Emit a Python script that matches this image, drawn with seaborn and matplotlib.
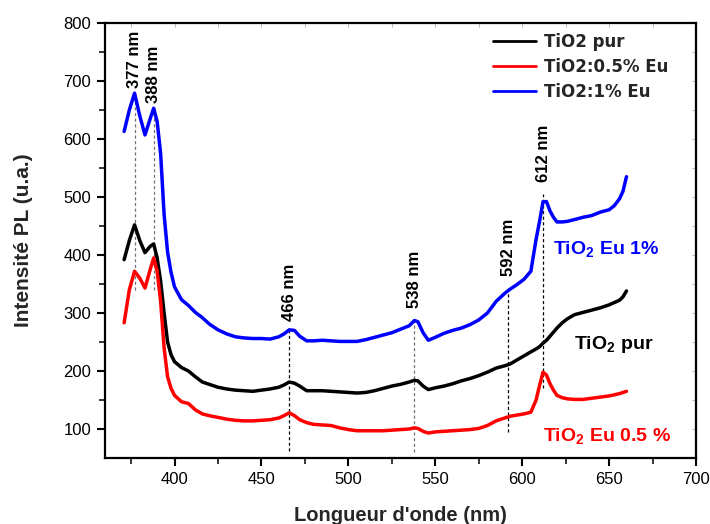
import numpy as np
import pandas as pd
import matplotlib
matplotlib.use("Agg")
import matplotlib.pyplot as plt
import seaborn as sns

# ---------------- data ----------------
wavelength = [371, 374, 377, 380, 383, 386, 388, 390, 392, 394, 396, 398, 400, 404, 408,
              412, 416, 420, 425, 430, 435, 440, 445, 450, 455, 460, 463, 466, 469, 472,
              476, 480, 485, 490, 495, 500, 505, 510, 515, 520, 525, 530, 535, 538, 540,
              543, 546, 550, 555, 560, 565, 570, 575, 580, 585, 590, 593, 597, 601, 605,
              608, 610, 612, 614, 616, 618, 620, 623, 626, 630, 635, 640, 645, 650, 653,
              656, 658, 660]

tio2_pur = [392, 425, 452, 425, 404, 415, 419, 395, 355, 300, 250, 228, 216, 206, 200,
            190, 181, 177, 172, 169, 167, 166, 165, 167, 169, 172, 176, 181, 179, 174,
            166, 166, 166, 165, 164, 163, 162, 163, 166, 170, 174, 177, 181, 184, 183,
            174, 168, 171, 174, 178, 183, 187, 192, 198, 205, 209, 212, 219, 226, 233,
            238, 242, 248, 253, 260, 267, 274, 283, 290, 297, 301, 305, 309, 314, 318,
            322, 328, 338]

tio2_eu05 = [283, 340, 372, 360, 343, 375, 395, 372, 320, 240, 190, 170, 158, 147, 144,
             133, 126, 123, 120, 117, 115, 114, 114, 115, 116, 119, 123, 128, 123, 116,
             111, 108, 107, 106, 102, 99, 97, 97, 97, 97, 98, 99, 100, 102, 101,
             96, 93, 95, 96, 97, 98, 99, 101, 106, 114, 119, 122, 124, 126, 129,
             150, 175, 198, 193, 178, 167, 158, 154, 152, 151, 151, 153, 155, 157, 159,
             161, 163, 165]

tio2_eu1 = [613, 650, 679, 640, 607, 635, 653, 630, 575, 470, 405, 370, 345, 323, 313,
            301, 292, 281, 271, 264, 259, 257, 256, 256, 255, 259, 264, 271, 270, 260,
            252, 252, 253, 252, 251, 251, 251, 254, 258, 262, 266, 272, 278, 287, 285,
            266, 253, 258, 265, 270, 274, 280, 288, 300, 320, 334, 341, 349, 358, 372,
            427, 458, 492, 492, 476, 465, 457, 457, 458, 461, 465, 468, 474, 478, 485,
            497, 510, 535]

series_names = ["TiO2 pur", "TiO2:0.5% Eu", "TiO2:1% Eu"]

# peak markers
peak_wl = [377, 388, 466, 538, 592, 612]
peak_labels = ["377 nm", "388 nm", "466 nm", "538 nm", "592 nm", "612 nm"]
peak_line_top = [679, 653, 271, 287, 345, 505]
peak_line_bottom = [340, 340, 62, 60, 94, 171]
peak_label_y = [688, 662, 286, 308, 363, 526]

# curve annotations
curve_text = [r"TiO$_\mathbf{2}$ Eu 1%", r"TiO$_\mathbf{2}$ pur", r"TiO$_\mathbf{2}$ Eu 0.5 %"]
curve_text_x = [618, 630, 612]
curve_text_y = [401, 238, 80]

# ---------------- plotting ----------------
sns.set_theme(style="ticks")
plt.rcParams["font.family"] = ["Liberation Sans", "DejaVu Sans"]
plt.rcParams["mathtext.fontset"] = "custom"
plt.rcParams["mathtext.rm"] = "Liberation Sans:bold"
plt.rcParams["mathtext.bf"] = "Liberation Sans:bold"
plt.rcParams["mathtext.it"] = "Liberation Sans:bold"

df = pd.DataFrame({
    "wl": wavelength * 3,
    "I": tio2_pur + tio2_eu05 + tio2_eu1,
    "sample": [series_names[0]] * len(wavelength) + [series_names[1]] * len(wavelength)
              + [series_names[2]] * len(wavelength),
})
palette = {series_names[0]: "#000000", series_names[1]: "#ff0000", series_names[2]: "#0000ff"}

fig = plt.figure(figsize=(7.1, 5.24), dpi=100)
ax = fig.add_axes([105 / 710, 1 - 458 / 524, (696 - 105) / 710, (458 - 23) / 524])

sns.lineplot(data=df, x="wl", y="I", hue="sample", palette=palette, sort=False,
             linewidth=2.5, ax=ax, legend=True, estimator=None)

# dashed peak lines
line_colors = ["0.45", "0.45", "black", "0.45", "black", "black"]
for x, y0, y1, c in zip(peak_wl, peak_line_bottom, peak_line_top, line_colors):
    ax.vlines(x, y0, y1, colors=c, linestyles=(0, (2.5, 2)), linewidth=0.9, zorder=1)

for x, y, t in zip(peak_wl, peak_label_y, peak_labels):
    ax.text(x, y, t, rotation=90, ha="center", va="bottom", fontsize=12,
            fontweight="bold", color="black")

for t, x, y, c in zip(curve_text, curve_text_x, curve_text_y, ["#0000ff", "black", "#ff0000"]):
    ax.text(x, y, t, ha="left", va="baseline", fontsize=14, fontweight="bold", color=c)

ax.set_xlim(360, 700)
ax.set_ylim(50, 800)
ax.set_xticks([400, 450, 500, 550, 600, 650, 700])
ax.set_yticks([100, 200, 300, 400, 500, 600, 700, 800])
ax.set_xticks(np.arange(375, 700, 50), minor=True)
ax.set_yticks(np.arange(150, 800, 100), minor=True)

for s in ax.spines.values():
    s.set_linewidth(1.6)
    s.set_color("black")

ax.tick_params(axis="both", which="major", direction="out", length=6, width=1.5,
               labelsize=12, pad=4, colors="black", top=False, right=False)
ax.tick_params(axis="both", which="minor", direction="out", length=4, width=1.3,
               top=False, right=False)

# faint mirror ticks on top / right
secx = ax.secondary_xaxis("top")
secx.set_xticks(np.arange(375, 700, 25))
secx.tick_params(direction="in", length=3, width=0.8, colors="0.75", labeltop=False)
secx.set_xticklabels([])
secy = ax.secondary_yaxis("right")
secy.set_yticks(np.arange(100, 800, 50))
secy.tick_params(direction="in", length=3, width=0.8, colors="0.75")
secy.set_yticklabels([])
secx.spines["top"].set_visible(False)
secy.spines["right"].set_visible(False)

ax.set_xlabel("Longueur d'onde (nm)", fontsize=14.5, fontweight="bold", labelpad=14)
ax.set_ylabel("Intensité PL (u.a.)", fontsize=15, fontweight="bold", labelpad=22)

handles, labels = ax.get_legend_handles_labels()
leg = ax.legend(handles, labels, loc="upper left", bbox_to_anchor=(493 / 710, 1 - 33 / 524),
                bbox_transform=fig.transFigure, frameon=False, borderaxespad=0, borderpad=0,
                handlelength=2.6, handletextpad=0.45, labelspacing=0.42,
                prop={"family": "DejaVu Sans", "weight": "bold", "size": 12})
for lh in leg.get_lines():
    lh.set_linewidth(2.0)

fig.savefig("out.png", dpi=100)
